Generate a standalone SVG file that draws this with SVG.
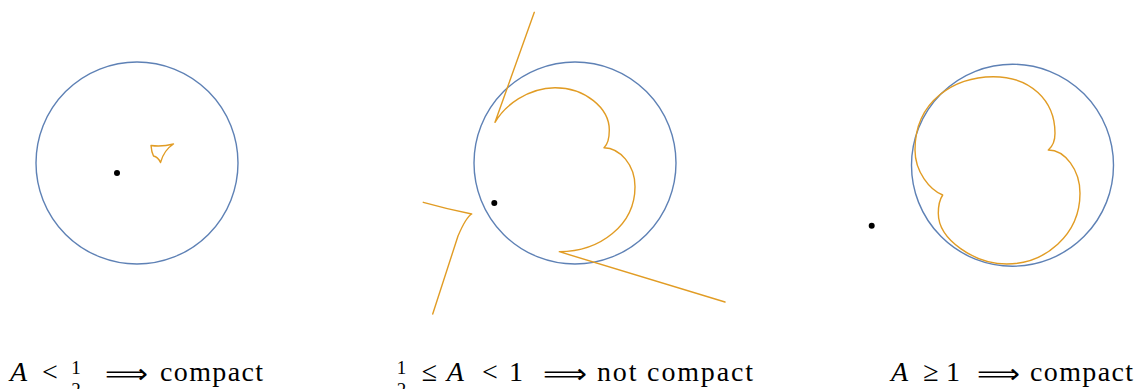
<svg xmlns="http://www.w3.org/2000/svg" width="1139" height="389" viewBox="0 0 1139 389">
<style>
.circ{fill:none;stroke:#5E81B5;stroke-width:1.4}
.orb{fill:none;stroke:#E19C24;stroke-width:1.4;stroke-linecap:round;stroke-linejoin:round}
.dot{fill:#000}
.t{font-family:'Liberation Serif','DejaVu Serif',serif;font-size:28px;fill:#000}
.i{font-style:italic}
.fr{font-family:'Liberation Serif','DejaVu Serif',serif;font-size:19px;fill:#000;text-anchor:middle}
.m{text-anchor:middle}
.ar{font-family:'DejaVu Sans',sans-serif;font-size:27px;fill:#000}
</style>
<rect width="1139" height="389" fill="#fff"/>
<g id="panel1">
<circle class="circ" cx="137" cy="163" r="101"/>
<circle class="dot" cx="117" cy="173" r="3"/>
<path class="orb" d="M151,145.5 Q162,147 173.5,144 Q164,150 160.5,162.5 Q158,157 153.5,156 Q151.5,152 151,145.5 Z"/>
</g>
<g id="panel2">
<circle class="circ" cx="575" cy="163" r="101"/>
<circle class="dot" cx="494.3" cy="203" r="3"/>
<path class="orb" d="M534.3,12.3 L495,122.3 C505,105 528,88 555,87.7 C585,87.7 609.3,108 609.3,130 C609.3,138 607,145 604,147.7 C620,148 635,165 635,186.7 C635,225 600,251.7 559.3,251.7 L725,302"/>
<path class="orb" d="M423.3,202.3 C440,207 462,212 471.7,214 C468,216 464,222 458,236 L432.7,314"/>
</g>
<g id="panel3">
<circle class="circ" cx="1012.5" cy="165.2" r="101"/>
<circle class="dot" cx="871.7" cy="225.7" r="3"/>
<path class="orb" d="M942.7,195 C930,190 915,172 915,150 C915,100 955,77 993.3,76.7 C1030,76.7 1055,100 1055,133.3 C1055,141 1052,147 1048.3,150 C1065,150 1080,170 1080,193.3 C1080,235 1045,264 1006.7,264 C975,264 938.3,240 938.3,213.3 C938.3,205 940,199 942.7,195 Z"/>
</g>
<g id="labels">
<text class="t i" x="10" y="381">A</text>
<text class="t m" x="50" y="381">&lt;</text>
<text class="fr" x="76" y="374">1</text>
<text class="fr" x="76" y="396">2</text>
<text class="ar" x="105" y="383" textLength="43" lengthAdjust="spacingAndGlyphs">⟹</text>
<text class="t" x="160" y="381" textLength="103">compact</text>

<text class="fr" x="401.5" y="374">1</text>
<text class="fr" x="401.5" y="396">2</text>
<text class="t m" x="429.5" y="381">≤</text>
<text class="t i" x="446.7" y="381">A</text>
<text class="t m" x="490" y="381">&lt;</text>
<text class="t m" x="516" y="381">1</text>
<text class="ar" x="543" y="383" textLength="44" lengthAdjust="spacingAndGlyphs">⟹</text>
<text class="t" x="597" y="381" textLength="156">not compact</text>

<text class="t i" x="891" y="381">A</text>
<text class="t m" x="931" y="381">≥</text>
<text class="t m" x="953" y="381">1</text>
<text class="ar" x="977" y="383" textLength="43" lengthAdjust="spacingAndGlyphs">⟹</text>
<text class="t" x="1030" y="381" textLength="103">compact</text>
</g>
</svg>
